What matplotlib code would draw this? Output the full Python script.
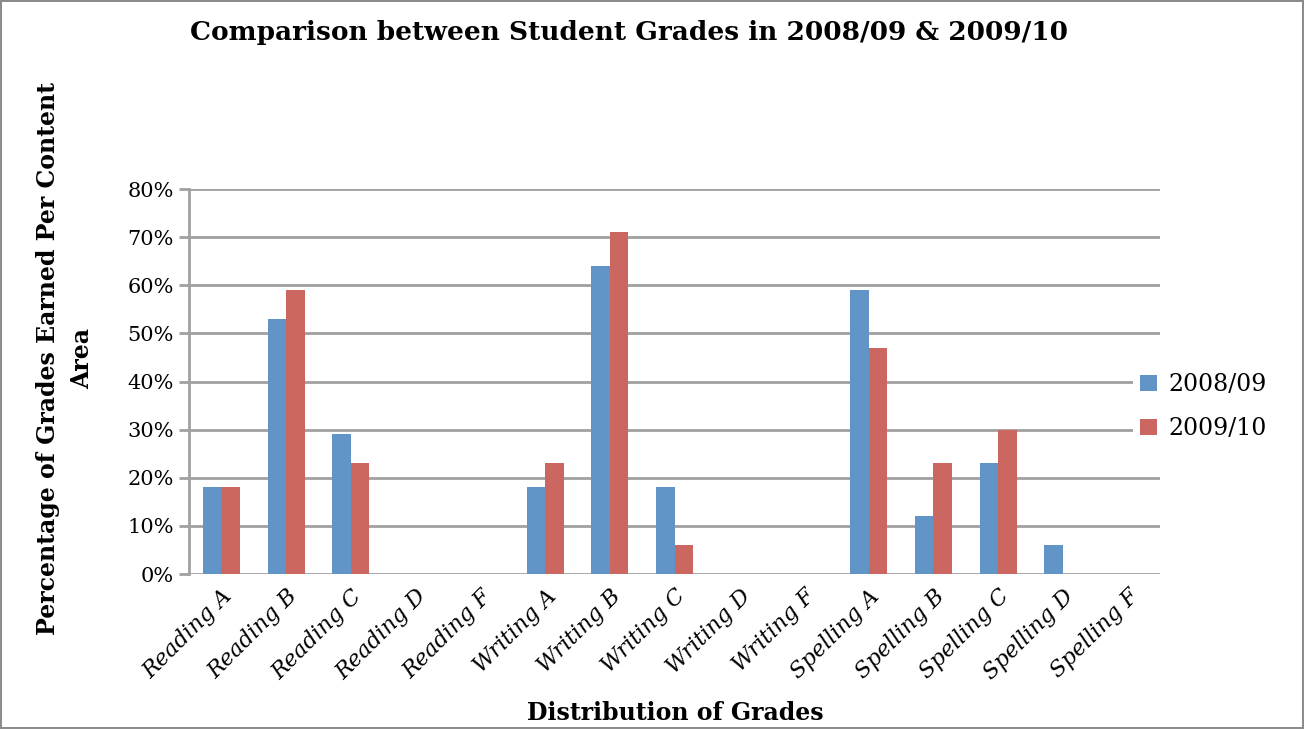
import numpy as np
import matplotlib
matplotlib.use('Agg')
import matplotlib.pyplot as plt
from matplotlib.ticker import PercentFormatter

categories = ['Reading A', 'Reading B', 'Reading C', 'Reading D', 'Reading F',
              'Writing A', 'Writing B', 'Writing C', 'Writing D', 'Writing F',
              'Spelling A', 'Spelling B', 'Spelling C', 'Spelling D', 'Spelling F']
grades_0809 = [18, 53, 29, 0, 0, 18, 64, 18, 0, 0, 59, 12, 23, 6, 0]
grades_0910 = [18, 59, 23, 0, 0, 23, 71, 6, 0, 0, 47, 23, 30, 0, 0]
series_names = ['2008/09', '2009/10']

plt.rcParams['font.family'] = 'DejaVu Serif'

fig = plt.figure(figsize=(13.04, 7.29), dpi=100, linewidth=1.5, edgecolor='#8c8c8c')
ax = fig.add_axes([0.145, 0.2126, 0.7446, 0.528])

x = np.arange(len(categories))
w = 0.285
ax.bar(x - w / 2, grades_0809, w, color='#6195c8', label=series_names[0], zorder=3)
ax.bar(x + w / 2, grades_0910, w, color='#cc6660', label=series_names[1], zorder=3)

ax.set_xlim(-0.5, len(categories) - 0.5)
ax.set_ylim(0, 80)
ax.set_yticks(np.arange(0, 81, 10))
ax.yaxis.set_major_formatter(PercentFormatter(decimals=0))
ax.grid(axis='y', color='#a0a0a0', linewidth=2, zorder=0)

for s in ['top', 'right', 'bottom']:
    ax.spines[s].set_visible(False)
ax.spines['left'].set_color('#a0a0a0')
ax.spines['left'].set_linewidth(2)
ax.tick_params(axis='y', length=7, width=2, color='#a0a0a0', labelsize=15, pad=4)
ax.tick_params(axis='x', length=0, labelsize=16, pad=8)

ax.set_xticks(x)
ax.set_xticklabels(categories, rotation=45, ha='right', rotation_mode='anchor',
                   style='italic')

ax.set_ylabel('Percentage of Grades Earned Per Content\nArea', fontsize=17,
              fontweight='bold', linespacing=1.5)
ax.yaxis.set_label_coords(-0.098, 0.56)
fig.text(0.482, 0.955, 'Comparison between Student Grades in 2008/09 & 2009/10',
         ha='center', va='center', fontsize=19, fontweight='bold')
fig.text(0.518, 0.022, 'Distribution of Grades', ha='center', va='center',
         fontsize=17, fontweight='bold')

leg = fig.legend(loc='center left', bbox_to_anchor=(0.86, 0.442), fontsize=17,
                 frameon=True, facecolor='white', edgecolor='none', framealpha=1,
                 handlelength=0.7, handleheight=0.7, handletextpad=0.5,
                 labelspacing=0.9, borderpad=0.3)

fig.savefig('out.png', dpi=100)
